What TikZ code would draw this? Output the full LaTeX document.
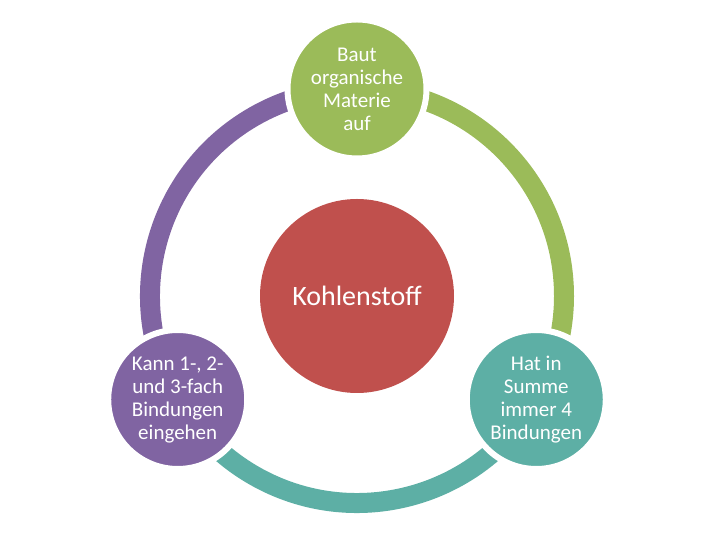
\documentclass[tikz,border=0pt]{standalone}
\usepackage{fontspec}
\setmainfont{Carlito}
\usepackage{tikz}
\usetikzlibrary{positioning}

\definecolor{kgreen}{HTML}{9BBB59}
\definecolor{kred}{HTML}{C0504D}
\definecolor{kpurple}{HTML}{8064A2}
\definecolor{kteal}{HTML}{5DAFA5}

\begin{document}
\begin{tikzpicture}[x=1pt,y=1pt]

	\tikzset{ring/.style={line width=20pt},
		bubble/.style={circle, draw=white, line width=6pt, minimum size=139pt, inner sep=0pt,
			text=white, align=center, font=\fontsize{21}{23}\selectfont}}

	\useasboundingbox (0,0) rectangle (720,540);

	\coordinate (mid) at (357,244);

	% the three bubbles on the ring
	\path (mid) ++(90:207) coordinate (pbaut);
	\path (mid) ++(210:207) coordinate (pkann);
	\path (mid) ++(330:207) coordinate (phat);

	% ring pieces first, bubbles on top
	\draw[ring,kpurple] (pkann) arc[start angle=210, end angle=90, radius=207];
	\draw[ring,kgreen] (pbaut) arc[start angle=90, end angle=-30, radius=207];
	\draw[ring,kteal] (phat) arc[start angle=-30, end angle=-150, radius=207];

	\node[bubble, fill=kgreen] (baut) at (pbaut) {Baut\\organische\\Materie\\auf};
	\node[bubble, fill=kpurple] (kann) at (pkann) {Kann 1-, 2-\\und 3-fach\\Bindungen\\eingehen};
	\node[bubble, fill=kteal] (hat) at (phat) {Hat in\\Summe\\immer 4\\Bindungen};

	\node[circle, fill=kred, minimum size=194pt, inner sep=0pt, text=white,
		font=\fontsize{28}{32}\selectfont] (kohlenstoff) at (mid) {Kohlenstoff};

\end{tikzpicture}
\end{document}
